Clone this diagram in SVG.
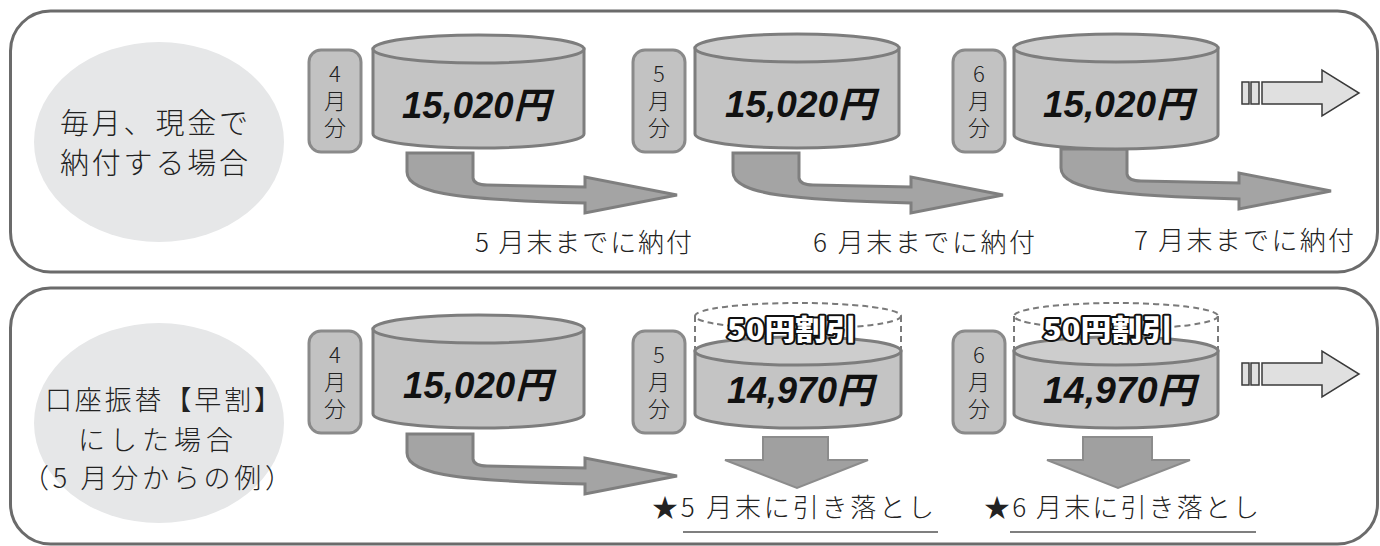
<svg xmlns="http://www.w3.org/2000/svg" xmlns:xlink="http://www.w3.org/1999/xlink" width="1380" height="546" viewBox="0 0 1380 546">
<style>
.panel{fill:#fff;stroke:#6b6b6b;stroke-width:3}
.oval{fill:#e6e7e8}
.jp{font-family:"Noto Sans CJK JP","Noto Sans",sans-serif;font-weight:300;fill:#222}
.body{fill:#c4c4c4;stroke:#7d7d7d;stroke-width:3}
.top{fill:#cdcdcd;stroke:#7d7d7d;stroke-width:3}
.dash{fill:none;stroke:#7a7a7a;stroke-width:2;stroke-dasharray:6 4}
.box{fill:#c2c2c2;stroke:#8a8a8a;stroke-width:3}
.amt{font-family:"Liberation Sans","Noto Sans CJK JP",sans-serif;font-weight:bold;font-style:italic;font-size:36px;fill:#111}
.disc{font-family:"Noto Sans CJK JP",sans-serif;font-weight:900;font-size:28px;fill:#fff;stroke:#111;stroke-width:4;paint-order:stroke;stroke-linejoin:round}
.arr{fill:#a4a4a4;stroke:#7f7f7f;stroke-width:3;stroke-linejoin:miter}
.down{fill:#a0a0a0;stroke:#8c8c8c;stroke-width:2}
.hol{fill:#e0e0e0;stroke:#3a3a3a;stroke-width:1.5}
.ul{stroke:#555;stroke-width:1.5}
.vt{font-family:"Noto Sans CJK JP",sans-serif;font-weight:300;font-size:22px;fill:#222;text-anchor:middle;writing-mode:vertical-rl;text-orientation:upright;letter-spacing:5px}
</style>
<defs>
<path id="curveArrow" class="arr" d="M0,0 H66 V25 Q67,32 80,32 L178,34 V24 L270,42 L178,60 V50 C63,47 0,42 0,19 Z"/>
</defs>

<g id="panel-top">
<rect class="panel" x="10.5" y="11" width="1367" height="261" rx="40"/>
<ellipse class="oval" cx="159" cy="142" rx="125" ry="100"/>
<text class="jp" font-size="29" x="60" y="134" textLength="188" lengthAdjust="spacing">毎月、現金で</text>
<text class="jp" font-size="29" x="60" y="174" textLength="188" lengthAdjust="spacing">納付する場合</text>
</g>

<g id="panel-bottom">
<rect class="panel" x="10.5" y="288" width="1367" height="256" rx="40"/>
<ellipse class="oval" cx="159" cy="423" rx="125" ry="100"/>
<text class="jp" font-size="27" x="45" y="410" textLength="236" lengthAdjust="spacing">口座振替【早割】</text>
<text class="jp" font-size="27" x="78" y="450" textLength="155" lengthAdjust="spacing">にした場合</text>
<text class="jp" font-size="27" x="22" y="488" textLength="270" lengthAdjust="spacing">（5 月分からの例）</text>
</g>

<g id="connectors">
<use xlink:href="#curveArrow" transform="translate(407,153)"/>
<use xlink:href="#curveArrow" transform="translate(733,153)"/>
<use xlink:href="#curveArrow" transform="translate(1061,149)"/>
<use xlink:href="#curveArrow" transform="translate(407,434)"/>
<path class="down" d="M763,437 H828 V460 H868 L797,488 L725,460 H763 Z"/>
<path class="down" d="M1083,437 H1152 V460 H1190 L1118,488 L1047,460 H1083 Z"/>
<g id="cont-top">
<rect class="hol" x="1242" y="82" width="7" height="22"/>
<rect class="hol" x="1251" y="82" width="8" height="22"/>
<path class="hol" d="M1262,82 H1322 V70 L1359,93 L1322,116 V104 H1262 Z"/>
</g>
<g id="cont-bottom">
<rect class="hol" x="1242" y="363" width="7" height="22"/>
<rect class="hol" x="1251" y="363" width="8" height="22"/>
<path class="hol" d="M1262,363 H1322 V351 L1359,374 L1322,397 V385 H1262 Z"/>
</g>
</g>

<!-- top row -->
<g id="m4-top">
<rect class="box" x="309" y="50" width="52" height="102" rx="12"/>
<text class="vt" x="335" y="103">4月分</text>
</g>
<g id="cyl4-top">
<path class="body" d="M373,49 V134 A105.5,14 0 0 0 584,134 V49 Z"/>
<ellipse class="top" cx="478.5" cy="49" rx="105.5" ry="14"/>
<text class="amt" x="402" y="118" textLength="148" lengthAdjust="spacingAndGlyphs">15,020円</text>
</g>
<g id="m5-top">
<rect class="box" x="633" y="50" width="52" height="102" rx="12"/>
<text class="vt" x="659" y="103">5月分</text>
</g>
<g id="cyl5-top">
<path class="body" d="M695,48 V134 A102,14 0 0 0 899,134 V48 Z"/>
<ellipse class="top" cx="797" cy="48" rx="102" ry="14"/>
<text class="amt" x="725" y="117" textLength="150" lengthAdjust="spacingAndGlyphs">15,020円</text>
</g>
<g id="m6-top">
<rect class="box" x="953" y="50" width="52" height="102" rx="12"/>
<text class="vt" x="979" y="103">6月分</text>
</g>
<g id="cyl6-top">
<path class="body" d="M1014,48 V135 A102,14 0 0 0 1218,135 V48 Z"/>
<ellipse class="top" cx="1116" cy="48" rx="102" ry="14"/>
<text class="amt" x="1043" y="117" textLength="150" lengthAdjust="spacingAndGlyphs">15,020円</text>
</g>
<g id="labels-top">
<text class="jp" font-size="26" x="475" y="252" textLength="217" lengthAdjust="spacing">5 月末までに納付</text>
<text class="jp" font-size="26" x="813" y="252" textLength="222" lengthAdjust="spacing">6 月末までに納付</text>
<text class="jp" font-size="26" x="1134" y="250" textLength="220" lengthAdjust="spacing">7 月末までに納付</text>
</g>

<!-- bottom row -->
<g id="m4-bottom">
<rect class="box" x="309" y="331" width="52" height="102" rx="12"/>
<text class="vt" x="335" y="384">4月分</text>
</g>
<g id="cyl4-bottom">
<path class="body" d="M373,329 V414 A105.5,14 0 0 0 584,414 V329 Z"/>
<ellipse class="top" cx="478.5" cy="329" rx="105.5" ry="14"/>
<text class="amt" x="403" y="398" textLength="149" lengthAdjust="spacingAndGlyphs">15,020円</text>
</g>
<g id="m5-bottom">
<rect class="box" x="633" y="331" width="52" height="102" rx="12"/>
<text class="vt" x="659" y="384">5月分</text>
</g>
<g id="cyl5-bottom">
<ellipse class="dash" cx="798" cy="316" rx="103" ry="13"/>
<line class="dash" x1="695" y1="316" x2="695" y2="351"/>
<line class="dash" x1="901" y1="316" x2="901" y2="351"/>
<path class="body" d="M695,351 V414 A103,14 0 0 0 901,414 V351 Z"/>
<ellipse class="top" cx="798" cy="351" rx="103" ry="14"/>
<text class="disc" x="727" y="340" textLength="130" lengthAdjust="spacingAndGlyphs">50円割引</text>
<text class="amt" x="727" y="403" textLength="146" lengthAdjust="spacingAndGlyphs">14,970円</text>
</g>
<g id="m6-bottom">
<rect class="box" x="953" y="331" width="52" height="102" rx="12"/>
<text class="vt" x="979" y="384">6月分</text>
</g>
<g id="cyl6-bottom">
<ellipse class="dash" cx="1116" cy="316" rx="102" ry="13"/>
<line class="dash" x1="1014" y1="316" x2="1014" y2="351"/>
<line class="dash" x1="1218" y1="316" x2="1218" y2="351"/>
<path class="body" d="M1014,351 V414 A102,14 0 0 0 1218,414 V351 Z"/>
<ellipse class="top" cx="1116" cy="351" rx="102" ry="14"/>
<text class="disc" x="1043" y="340" textLength="130" lengthAdjust="spacingAndGlyphs">50円割引</text>
<text class="amt" x="1043" y="403" textLength="152" lengthAdjust="spacingAndGlyphs">14,970円</text>
</g>
<g id="labels-bottom">
<text class="jp" font-size="26" x="652" y="517" textLength="282" lengthAdjust="spacing">★5 月末に引き落とし</text>
<line class="ul" x1="683" y1="532" x2="938" y2="532"/>
<text class="jp" font-size="26" x="984" y="517" textLength="275" lengthAdjust="spacing">★6 月末に引き落とし</text>
<line class="ul" x1="1010" y1="532" x2="1256" y2="532"/>
</g>
</svg>
